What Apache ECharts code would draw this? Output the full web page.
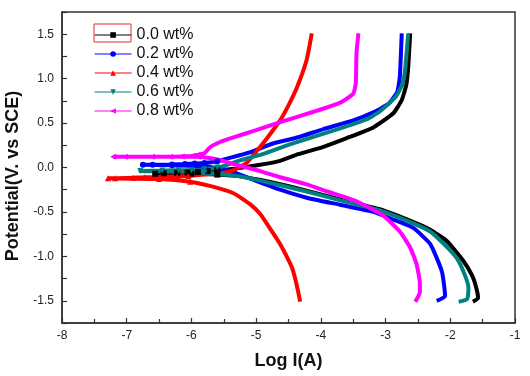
<!DOCTYPE html>
<html>
<head>
<meta charset="utf-8">
<script src="https://cdn.jsdelivr.net/npm/echarts@6/dist/echarts.min.js"></script>
<style>
  html, body { margin: 0; padding: 0; background: #fff; }
  #main { width: 530px; height: 376px; }
</style>
</head>
<body>
<div id="main"></div>
<script>
// legend names and colours
var names = ['0.0 wt%', '0.2 wt%', '0.4 wt%', '0.6 wt%', '0.8 wt%'];
var colors = ['#000000', '#0000ff', '#ff0000', '#008080', '#ff00ff'];
var symbols = ['rect', 'circle', 'triangle', 'path://M0,0 L10,0 L5,9 Z', 'path://M0,5 L9,0 L9,10 Z'];

// Tafel curves: log I (A) and potential (V vs SCE), bottom -> Ecorr -> top
var logI00 = [-1.65, -1.57, -1.60, -1.66, -1.80, -2.05, -2.31, -2.55, -3.09, -3.60, -4.22, -4.80, -5.25, -5.60, -6.00, -6.56,
  -6.43, -6.22, -6.06, -5.90, -5.75, -5.60, -5.30, -4.94, -4.63, -4.35, -3.97, -3.60, -3.19, -2.88, -2.75, -2.68, -2.65, -2.62];
var pot00 = [-1.51, -1.47, -1.35, -1.22, -1.05, -0.83, -0.70, -0.62, -0.47, -0.38, -0.26, -0.16, -0.10, -0.08, -0.07, -0.07,
  -0.065, -0.06, -0.055, -0.05, -0.04, -0.03, -0.01, 0.03, 0.075, 0.15, 0.23, 0.33, 0.45, 0.61, 0.76, 0.93, 1.13, 1.51];

var logI02 = [-2.21, -2.08, -2.10, -2.13, -2.22, -2.31, -2.57, -2.90, -3.19, -3.70, -4.22, -4.63, -5.00, -5.25, -5.50, -5.80, -6.30, -6.75,
  -6.60, -6.30, -6.10, -5.95, -5.80, -5.60, -5.45, -5.10, -4.74, -4.35, -3.97, -3.50, -3.19, -2.95, -2.82, -2.78, -2.75];
var pot02 = [-1.50, -1.45, -1.30, -1.17, -1.00, -0.86, -0.68, -0.58, -0.50, -0.42, -0.34, -0.25, -0.15, -0.08, -0.02, 0.01, 0.025, 0.03,
  0.03, 0.035, 0.04, 0.045, 0.05, 0.07, 0.10, 0.17, 0.27, 0.34, 0.43, 0.53, 0.62, 0.72, 0.85, 1.02, 1.51];

var logI04 = [-4.32, -4.35, -4.40, -4.45, -4.55, -4.63, -4.80, -4.94, -5.10, -5.35, -5.70, -6.02, -6.50, -7.29,
  -7.18, -6.90, -6.72, -6.48, -6.36, -6.22, -6.05, -5.80, -5.50, -5.35, -5.15, -4.94, -4.78, -4.63, -4.50, -4.37, -4.22, -4.14];
var pot04 = [-1.51, -1.40, -1.24, -1.12, -0.97, -0.86, -0.67, -0.52, -0.41, -0.29, -0.21, -0.16, -0.13, -0.12,
  -0.12, -0.115, -0.11, -0.11, -0.105, -0.10, -0.095, -0.08, -0.06, -0.03, 0.05, 0.23, 0.38, 0.53, 0.70, 0.90, 1.21, 1.51];

var logI06 = [-1.87, -1.74, -1.72, -1.78, -1.90, -2.10, -2.31, -2.60, -3.10, -3.70, -4.22, -4.80, -5.25, -5.80, -6.30, -6.79,
  -6.45, -6.20, -6.00, -5.80, -5.60, -5.45, -5.25, -4.90, -4.48, -3.70, -3.30, -3.09, -2.85, -2.75, -2.70, -2.65];
var pot06 = [-1.51, -1.48, -1.35, -1.20, -1.02, -0.86, -0.72, -0.62, -0.48, -0.37, -0.27, -0.17, -0.10, -0.06, -0.045, -0.04,
  -0.035, -0.03, -0.03, -0.02, 0.00, 0.03, 0.08, 0.15, 0.26, 0.44, 0.54, 0.63, 0.79, 0.92, 1.09, 1.51];

var logI08 = [-2.54, -2.47, -2.47, -2.52, -2.62, -2.78, -3.04, -3.45, -3.90, -4.22, -4.63, -4.94, -5.35, -5.60, -5.90, -7.21,
  -7.03, -6.61, -6.33, -6.15, -5.99, -5.91, -5.80, -5.71, -5.55, -5.35, -5.00, -4.63, -4.10, -3.70, -3.50, -3.46, -3.45, -3.42];
var pot08 = [-1.51, -1.40, -1.30, -1.09, -0.90, -0.72, -0.54, -0.38, -0.27, -0.19, -0.11, -0.04, 0.04, 0.09, 0.12, 0.12,
  0.12, 0.12, 0.12, 0.125, 0.13, 0.14, 0.16, 0.23, 0.29, 0.34, 0.42, 0.51, 0.63, 0.73, 0.83, 0.95, 1.28, 1.51];

// markers only appear in the flat region near Ecorr
var markerEnd = [-5.6, -5.6, -5.95, -5.6, -5.9];

var xTicks = [-8, -7, -6, -5, -4, -3, -2, -1];

var curves = [[logI00, pot00], [logI02, pot02], [logI04, pot04], [logI06, pot06], [logI08, pot08]];

var series = curves.map(function (c, i) {
  var pts = c[0].map(function (x, k) { return [x, c[1][k]]; });
  return {
    name: names[i],
    type: 'line',
    data: pts,
    symbol: symbols[i],
    showSymbol: true,
    symbolSize: function (v) { return v[0] <= markerEnd[i] ? 6 : 0; },
    smooth: 0.15,
    lineStyle: { color: colors[i], width: 4 },
    itemStyle: { color: colors[i] },
    emphasis: { disabled: true },
    animation: false
  };
});

var chart = echarts.init(document.getElementById('main'));
chart.setOption({
  backgroundColor: '#ffffff',
  animation: false,
  grid: {
    left: 62, right: 15, top: 12, bottom: 53,
    outerBoundsMode: 'none', containLabel: false,
    show: true, borderColor: '#333', borderWidth: 1.5, backgroundColor: 'transparent'
  },
  legend: {
    orient: 'vertical',
    left: 94, top: 27, padding: 0,
    itemWidth: 37, itemHeight: 7, itemGap: 3,
    lineStyle: { width: 1.2 },
    textStyle: { fontFamily: 'Liberation Sans, Arial', fontSize: 16, color: '#111', lineHeight: 16 },
    selectedMode: false,
    data: names
  },
  graphic: [{
    type: 'rect',
    shape: { x: 94, y: 24, width: 37, height: 18 },
    style: { fill: 'none', stroke: '#e03030', lineWidth: 1 },
    z: 100
  }],
  xAxis: {
    type: 'value',
    min: xTicks[0], max: xTicks[xTicks.length - 1], interval: 1,
    name: 'Log I(A)', nameLocation: 'middle', nameGap: 29,
    nameTextStyle: { fontFamily: 'Liberation Sans, Arial', fontWeight: 'bold', fontSize: 18, color: '#111' },
    axisLine: { onZero: false, lineStyle: { color: '#333', width: 1.5 } },
    axisTick: { inside: true, length: 5, lineStyle: { color: '#333', width: 1.2 } },
    minorTick: { show: true, splitNumber: 2, length: 4, lineStyle: { color: '#333', width: 1.2 } },
    axisLabel: { fontFamily: 'Liberation Sans, Arial', fontSize: 12, color: '#222', margin: 7 },
    splitLine: { show: false }
  },
  yAxis: {
    type: 'value',
    min: -1.75, max: 1.75, interval: 0.25,
    name: 'Potential(V. vs SCE)', nameLocation: 'middle', nameGap: 37,
    nameTextStyle: {
      fontFamily: 'Liberation Sans, Arial', fontWeight: 'bold', fontSize: 18, color: '#111',
      padding: [0, 17, 0, 0]
    },
    axisLine: { onZero: false, lineStyle: { color: '#333', width: 1.5 } },
    axisTick: { inside: true, length: 5, lineStyle: { color: '#333', width: 1.2 } },
    axisLabel: {
      fontFamily: 'Liberation Sans, Arial', fontSize: 12, color: '#222', margin: 8,
      showMinLabel: true, showMaxLabel: true,
      formatter: function (v) {
        return Math.abs(v * 2 - Math.round(v * 2)) < 1e-6 ? v.toFixed(1) : '';
      }
    },
    splitLine: { show: false }
  },
  series: series
});
</script>
</body>
</html>
